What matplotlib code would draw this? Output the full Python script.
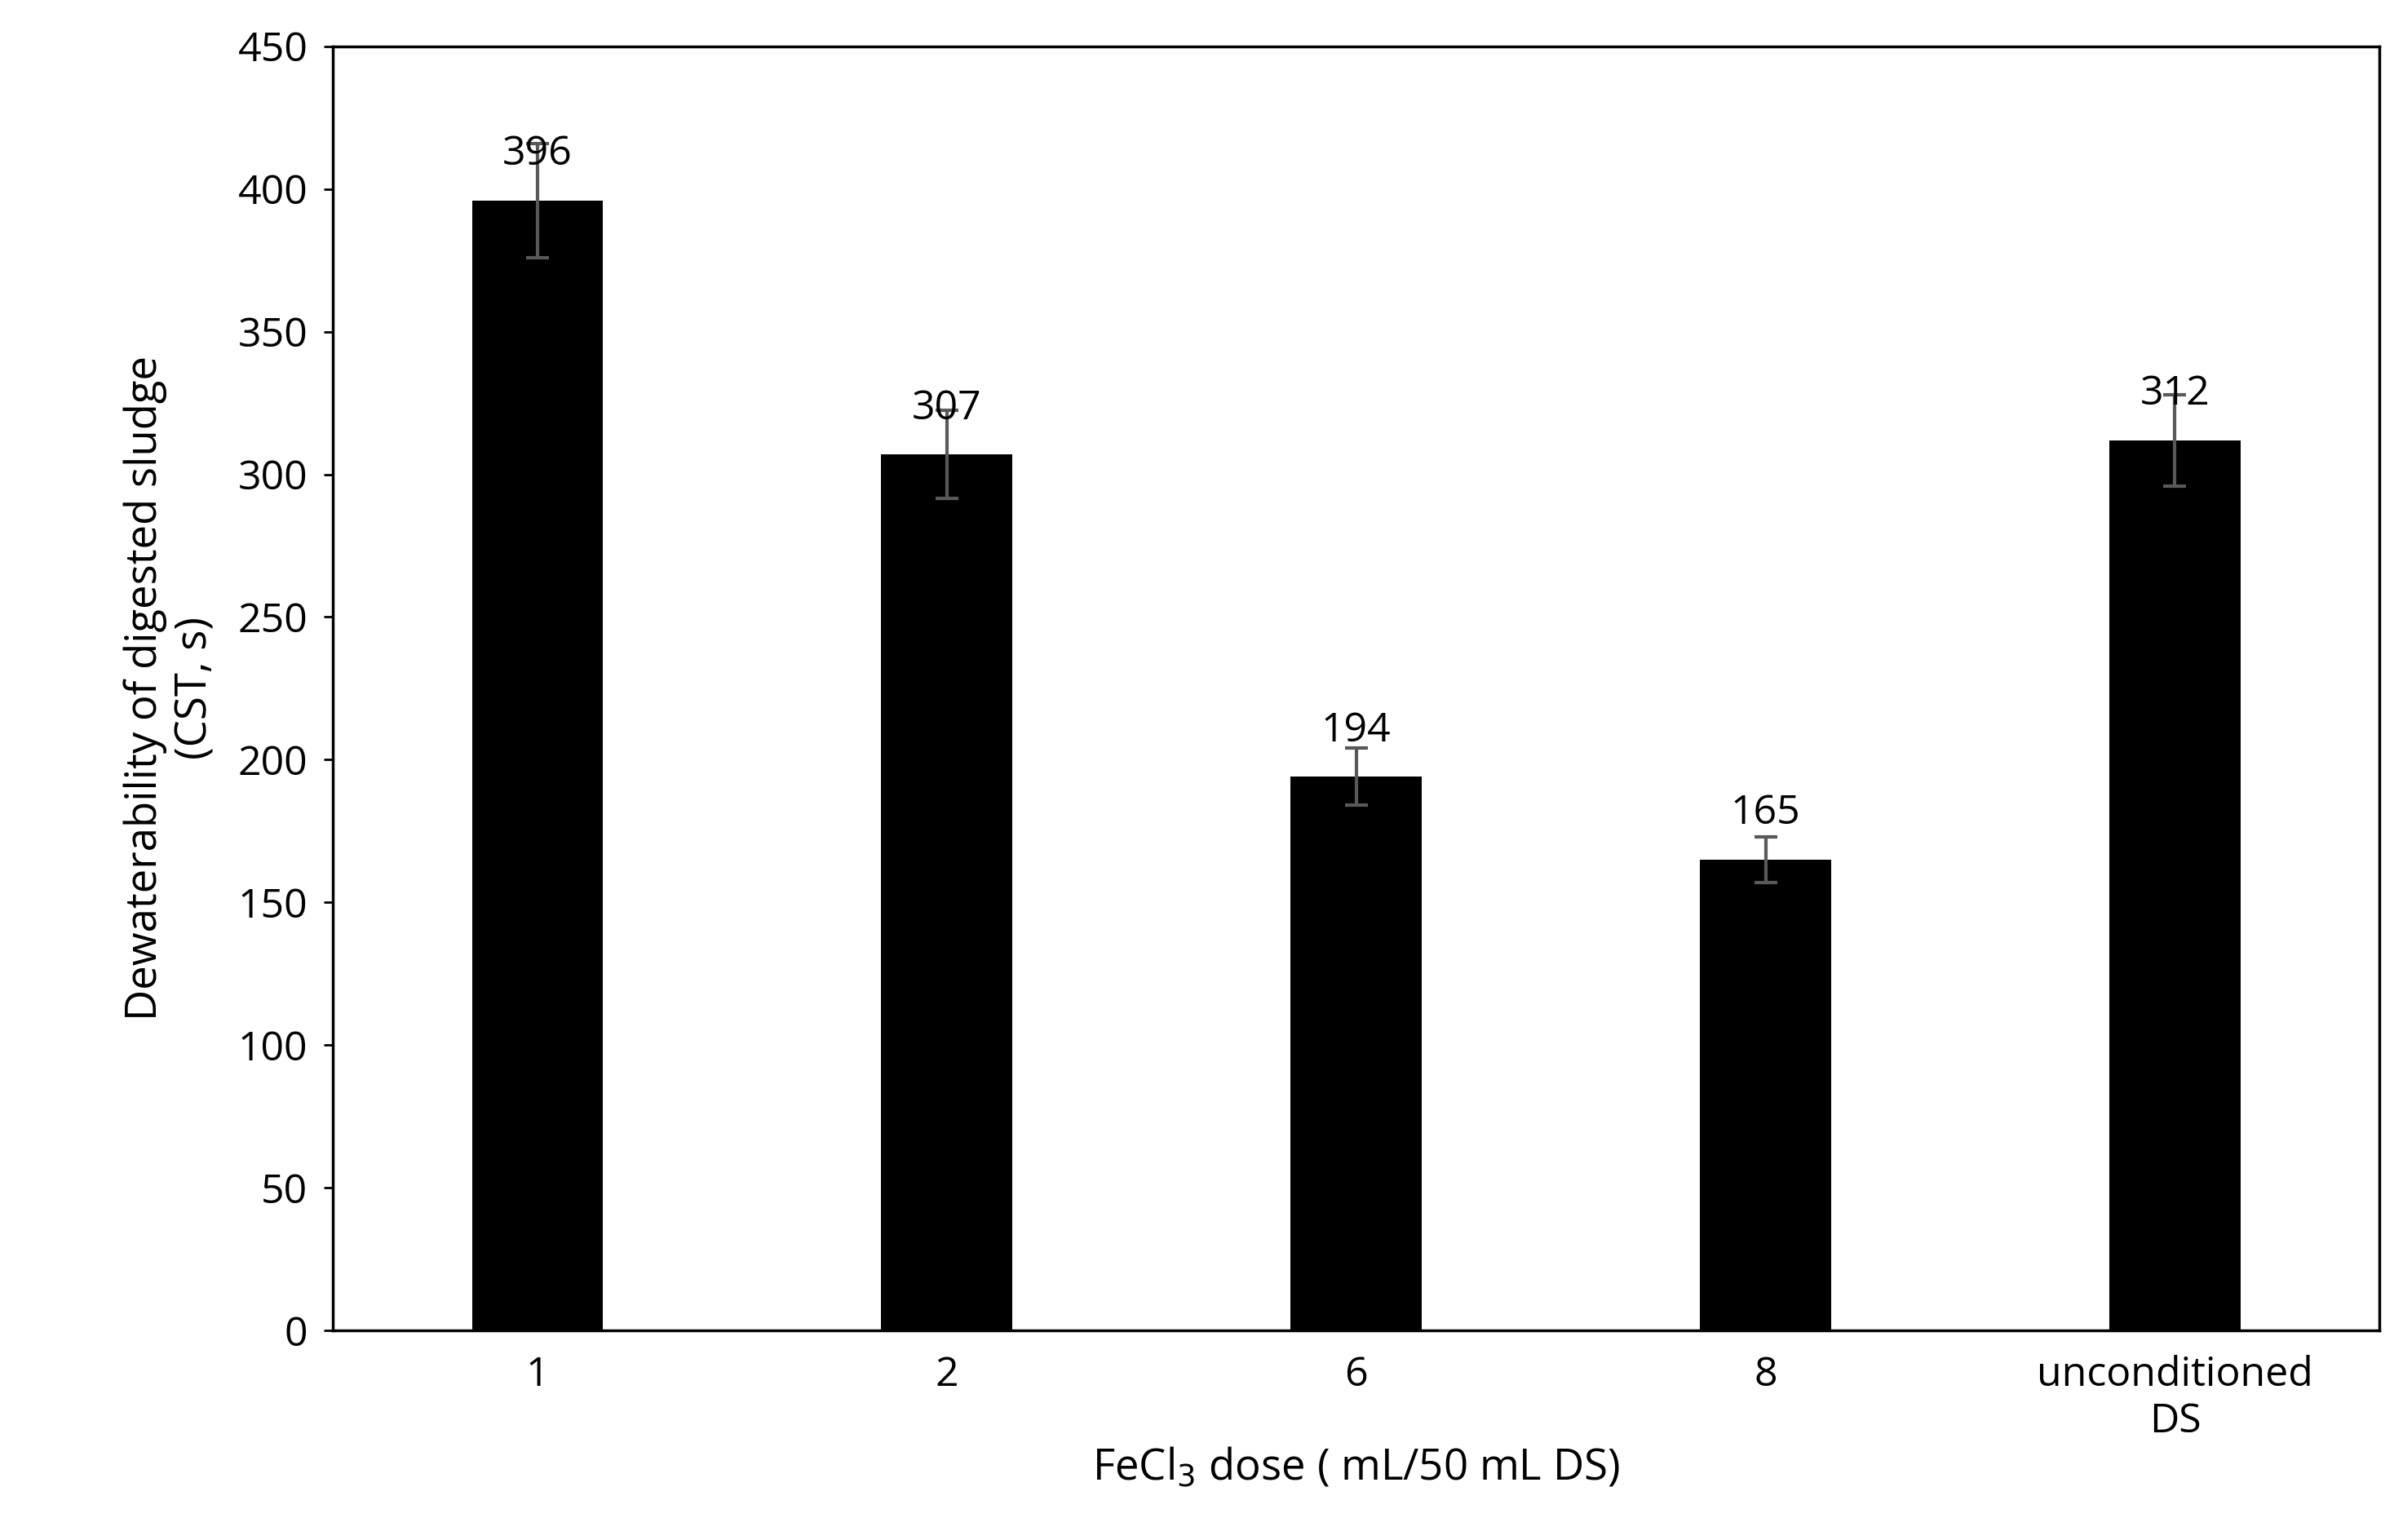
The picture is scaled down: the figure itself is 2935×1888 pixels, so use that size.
import matplotlib

matplotlib.use("Agg")
import matplotlib.pyplot as plt

categories = ["1", "2", "6", "8", "unconditioned\nDS"]
cst = [396, 307, 194, 165, 312]
err = [20, 15.5, 10, 8, 16]

plt.rcParams["font.family"] = ["Open Sans", "DejaVu Sans"]

fig = plt.figure(figsize=(29.35, 18.88), dpi=100)
ax = fig.add_axes([0.139, 0.136, 0.855, 0.834])

x = range(len(categories))
ax.bar(x, cst, width=0.32, color="black")
ax.errorbar(x, cst, yerr=err, fmt="none", ecolor="#595959", elinewidth=3,
            capsize=10, capthick=3)
for i, v in zip(x, cst):
    ax.text(i, v + 9, str(v), ha="center", va="bottom", fontsize=36)

ax.set_xlim(-0.5, 4.5)
ax.set_ylim(0, 450)
ax.set_yticks(range(0, 451, 50))
ax.set_xticks(list(x))
ax.set_xticklabels(categories)
ax.tick_params(axis="x", length=0, labelsize=36, pad=22)
ax.tick_params(axis="y", length=8, width=2, labelsize=36, pad=14)
for s in ax.spines.values():
    s.set_linewidth(2.5)

ax.set_xlabel("FeCl$_3$ dose ( mL/50 mL DS)", fontsize=38, labelpad=4)
ax.set_ylabel("Dewaterability of digested sludge\n(CST, s)", fontsize=38,
              labelpad=18)

fig.savefig("out.png", dpi=100)
